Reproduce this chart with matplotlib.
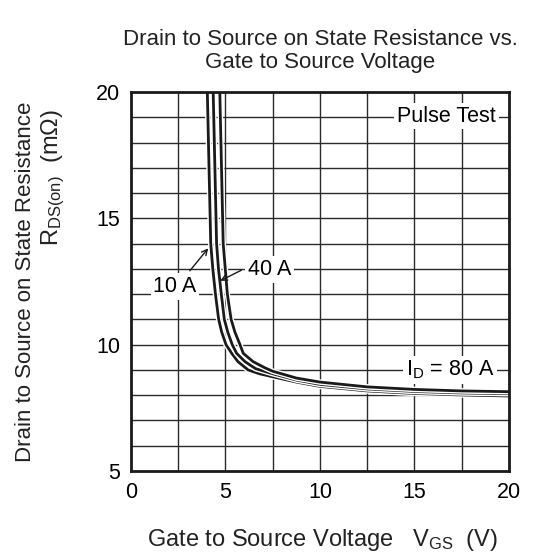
import matplotlib
matplotlib.use("Agg")
import matplotlib.pyplot as plt
import matplotlib.patheffects as pe

plt.rcParams['font.family'] = ['Liberation Sans', 'DejaVu Sans']
plt.rcParams['mathtext.fontset'] = 'custom'
plt.rcParams['mathtext.rm'] = 'Liberation Sans'
plt.rcParams['mathtext.it'] = 'Liberation Sans'

# curves, V_GS (V) vs R_DS(on) (mOhm)
vgs_10a = [4.04, 4.13, 4.22, 4.33, 4.47, 4.64, 4.8, 5.03, 5.33, 5.66, 6.2, 6.8, 7.5, 8.75, 10, 12.5, 15, 17.5, 20]
rds_10a = [20, 17, 14, 13, 12, 11, 10.5, 10, 9.66, 9.33, 9.0, 8.85, 8.73, 8.52, 8.35, 8.17, 8.07, 8.01, 7.97]

vgs_40a = [4.35, 4.44, 4.53, 4.63, 4.78, 4.94, 5.12, 5.36, 5.59, 6.03, 6.6, 7.5, 8.75, 10, 12.5, 15, 17.5, 20]
rds_40a = [20, 17, 14, 13, 12, 11, 10.5, 10, 9.66, 9.33, 9.05, 8.85, 8.6, 8.43, 8.25, 8.15, 8.09, 8.06]

vgs_80a = [4.7, 4.79, 4.88, 4.99, 5.1, 5.3, 5.5, 5.77, 5.94, 6.46, 7.1, 7.5, 8.75, 10, 12.5, 15, 17.5, 20]
rds_80a = [20, 17, 14, 13, 12, 11, 10.5, 10, 9.66, 9.33, 9.08, 8.95, 8.68, 8.52, 8.33, 8.23, 8.17, 8.14]

x_ticks = [0, 5, 10, 15, 20]
y_ticks = [5, 10, 15, 20]

fig = plt.figure(figsize=(5.36, 5.54), dpi=100)
ax = fig.add_axes([0.2444, 0.1498, 0.705, 0.684])

# grid: every 2.5 V and every 1 mOhm
for gx in [2.5 * i for i in range(1, 8)]:
    ax.axvline(gx, color='#2a2a2a', lw=1.0, zorder=1)
for gy in range(6, 20):
    ax.axhline(gy, color='#2a2a2a', lw=1.0, zorder=1)

halo = [pe.Stroke(linewidth=4.0, foreground='white'), pe.Normal()]
for xs, ys in [(vgs_10a, rds_10a), (vgs_40a, rds_40a), (vgs_80a, rds_80a)]:
    ax.plot(xs, ys, color='#1a1a1a', lw=2.0, zorder=3, path_effects=halo,
            solid_joinstyle='round')

ax.set_xlim(0, 20)
ax.set_ylim(5, 20)
ax.set_xticks(x_ticks)
ax.set_yticks(y_ticks)
ax.tick_params(length=0, labelsize=15.5, pad=8)
for s in ax.spines.values():
    s.set_linewidth(2.0)
    s.set_color('#1a1a1a')
    s.set_zorder(5)

box = dict(facecolor='white', edgecolor='none', pad=2)
ax.text(16.7, 19.05, 'Pulse Test', fontsize=15.5, ha='center', va='center', bbox=box, zorder=4)
ax.text(16.9, 9.0, r'$\mathregular{I_D}$ = 80 A', fontsize=15.5, ha='center', va='center', bbox=box, zorder=4)
ax.text(2.33, 12.3, '10 A', fontsize=15.5, ha='center', va='center', bbox=box, zorder=4)
ax.text(7.35, 12.98, '40 A', fontsize=15.5, ha='center', va='center', bbox=box, zorder=4)
ax.annotate('', xy=(4.18, 13.9), xytext=(3.02, 12.84),
            arrowprops=dict(arrowstyle='->', color='#1a1a1a', lw=1.0), zorder=4)
ax.annotate('', xy=(4.59, 12.48), xytext=(5.98, 13.0),
            arrowprops=dict(arrowstyle='->', color='#1a1a1a', lw=1.0), zorder=4)

fig.text(0.597, 0.908, 'Drain to Source on State Resistance vs.\nGate to Source Voltage',
         fontsize=16, ha='center', va='center', linespacing=1.15, color='#222222')
fig.text(0.6017, 0.0253, r'Gate to Source Voltage   $\mathregular{V_{GS}}$  (V)',
         fontsize=17, ha='center', va='center', color='#222222')
fig.text(0.047, 0.492, 'Drain to Source on State Resistance', fontsize=16,
         rotation=90, ha='center', va='center', color='#222222')
fig.text(0.1, 0.679, r'$\mathregular{R_{DS(on)}}$  (m$\mathregular{\Omega}$)', fontsize=17,
         rotation=90, ha='center', va='center', color='#222222')

fig.savefig('out.png', dpi=100)
